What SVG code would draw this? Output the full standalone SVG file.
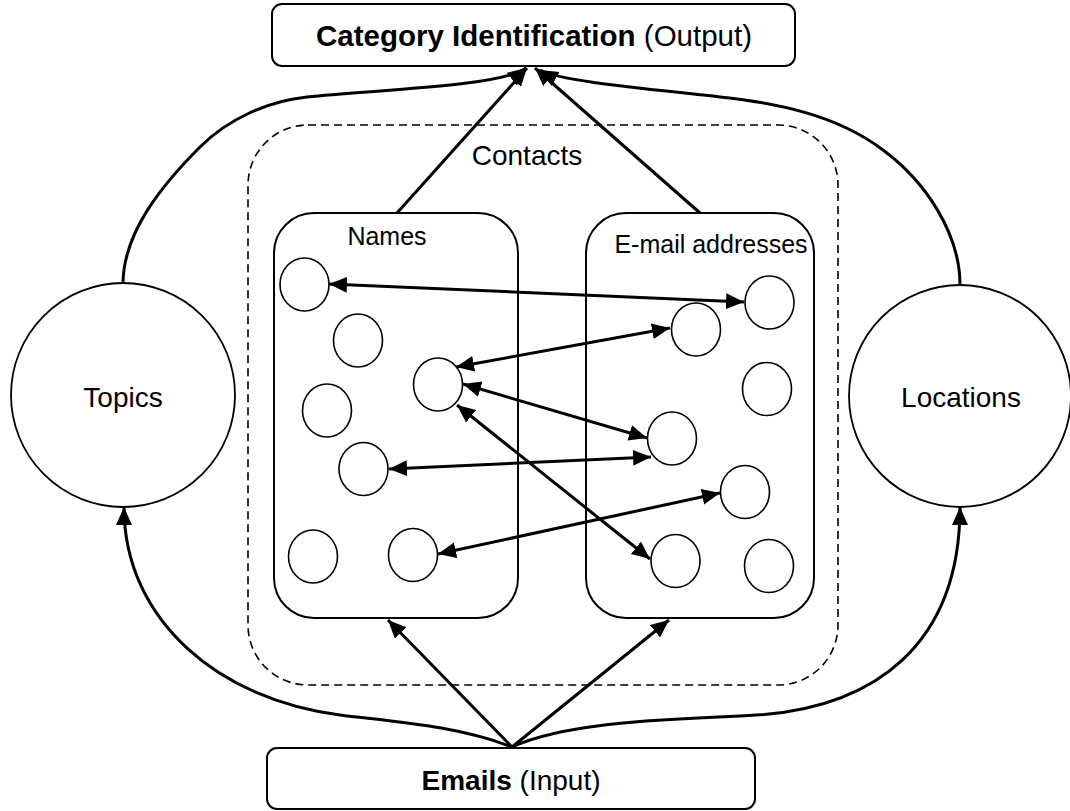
<svg xmlns="http://www.w3.org/2000/svg" width="1070" height="811" viewBox="0 0 1070 811">
<defs>
<marker id="ah" markerUnits="userSpaceOnUse" markerWidth="20" markerHeight="18" refX="18" refY="8" orient="auto-start-reverse" viewBox="0 0 20 18">
<path d="M0,0 L18,8 L0,16 z" fill="#000"/>
</marker>
<style>
text{font-family:"Liberation Sans",Arial,sans-serif;fill:#000}
.box{fill:#fff;stroke:#000;stroke-width:2}
.grp{fill:none;stroke:#000;stroke-width:2}
.dot{fill:#fff;stroke:#000;stroke-width:1.6}
.big{fill:#fff;stroke:#000;stroke-width:1.8}
.dash{fill:none;stroke:#000;stroke-width:1.6;stroke-dasharray:8 5}
.c{fill:none;stroke:#000;stroke-width:3}
.ea{marker-end:url(#ah)}
.da{marker-start:url(#ah);marker-end:url(#ah)}
</style>
</defs>
<rect width="1070" height="811" fill="#fff"/>

<g id="contacts">
<rect class="dash" x="248" y="125" width="590" height="560" rx="60"/>
<text x="527" y="165" font-size="28" text-anchor="middle">Contacts</text>
</g>

<g id="names">
<rect class="grp" x="274" y="213" width="244" height="405" rx="40"/>
<text x="387" y="245" font-size="25" text-anchor="middle">Names</text>
<ellipse class="dot" cx="304.5" cy="284.5" rx="24.5" ry="26.5"/>
<ellipse class="dot" cx="358" cy="340.5" rx="24.5" ry="26.5"/>
<ellipse class="dot" cx="438" cy="384.5" rx="24.5" ry="26.5"/>
<ellipse class="dot" cx="327" cy="410.5" rx="24.5" ry="26.5"/>
<ellipse class="dot" cx="363.5" cy="469" rx="24.5" ry="26.5"/>
<ellipse class="dot" cx="313" cy="556.5" rx="24.5" ry="26.5"/>
<ellipse class="dot" cx="413" cy="555" rx="24.5" ry="26.5"/>
</g>

<g id="emails-addresses">
<rect class="grp" x="586" y="213" width="228" height="405" rx="40"/>
<text x="711" y="253" font-size="25" text-anchor="middle">E-mail addresses</text>
<ellipse class="dot" cx="769.5" cy="302.5" rx="24.5" ry="26.5"/>
<ellipse class="dot" cx="696" cy="329.5" rx="24.5" ry="26.5"/>
<ellipse class="dot" cx="767" cy="389" rx="24.5" ry="26.5"/>
<ellipse class="dot" cx="672" cy="438.5" rx="24.5" ry="26.5"/>
<ellipse class="dot" cx="745" cy="492" rx="24.5" ry="26.5"/>
<ellipse class="dot" cx="675.5" cy="561" rx="24.5" ry="26.5"/>
<ellipse class="dot" cx="769" cy="566" rx="24.5" ry="26.5"/>
</g>

<g id="topics">
<circle class="big" cx="123" cy="395" r="112"/>
<text x="123" y="407" font-size="28" text-anchor="middle">Topics</text>
</g>

<g id="locations">
<circle class="big" cx="960" cy="396" r="111"/>
<text x="961" y="407" font-size="28" text-anchor="middle">Locations</text>
</g>

<g id="output">
<rect class="box" x="272" y="4" width="523" height="62" rx="10"/>
<text x="534" y="46" font-size="29.5" text-anchor="middle"><tspan font-weight="bold">Category Identification</tspan> (Output)</text>
</g>

<g id="input">
<rect class="box" x="267" y="748" width="488" height="61" rx="10"/>
<text x="511" y="790" font-size="28" text-anchor="middle"><tspan font-weight="bold">Emails</tspan> (Input)</text>
</g>

<g id="connectors">
<path class="c ea" d="M123,284 C123,232 163,184 200,147 C228,119 268,101 307,97 C382,89.5 503,86 526,68"/>
<path class="c ea" d="M960,285 C960,233 925,181 883,150 C837,115 777,103 720,97 C661,90 561,82 540,70"/>
<path class="c ea" d="M397,213 L527,68"/>
<path class="c ea" d="M700,213 L535,68"/>
<path class="c ea" d="M512,747 C458,726 397,722 340,715 C220,700 124,621 124,507"/>
<path class="c ea" d="M512,747 C560,725 640,720 740,716 C880,712 960,640 960,507"/>
<path class="c ea" d="M512,747 L388,620"/>
<path class="c ea" d="M512,747 L669,620"/>
<path class="c da" d="M329,284 L744,302"/>
<path class="c da" d="M456,367 L670,328"/>
<path class="c da" d="M463,384 L647,438"/>
<path class="c da" d="M389,469 L651,457"/>
<path class="c da" d="M457,405 L650,559"/>
<path class="c da" d="M438,554 L720,493"/>
</g>
</svg>
